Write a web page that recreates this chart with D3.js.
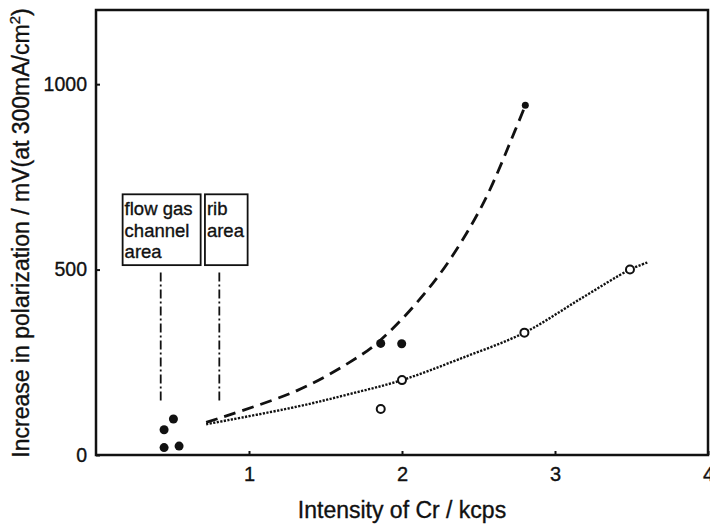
<!DOCTYPE html>
<html>
<head>
<meta charset="utf-8">
<script src="https://cdn.jsdelivr.net/npm/d3@7"></script>
<style>
  body { margin: 0; background: #fff; }
  text { font-family: "Liberation Sans", Arial, sans-serif; fill: #111; stroke: #111; stroke-width: 0.35; }
</style>
</head>
<body>
<div id="vis"></div>
<script>
let filledX = [0.445, 0.543, 0.445, 0.506, 1.861, 1.998, 2.806]
let filledY = [20, 24, 68, 97, 301, 300, 943]
let openX = [1.861, 2.0, 2.8, 3.49]
let openY = [124, 202, 330, 500]

// fitted curves as drawn
let dashX = [0.72, 1.31, 1.654, 1.86, 2.22, 2.52, 2.74, 2.806]
let dashY = [88, 173, 249, 310, 473, 670, 876, 943]
let dotX = [0.72, 1.31, 1.654, 2.0, 2.37, 2.8, 3.17, 3.49, 3.61]
let dotY = [83, 130, 164, 202, 258, 330, 422, 500, 520]

let xTicks = [1, 2, 3, 4]
let yTicks = [0, 500, 1000]

let W = 710, H = 530
let x = d3.scaleLinear([0, 4], [96, 708])
let y = d3.scaleLinear([0, 1200], [455, 10])

let svg = d3.select("#vis").append("svg")
    .attr("width", W)
    .attr("height", H)

// x axis (ticks point inward)
let xa = svg.append("g")
    .attr("transform", `translate(0, ${y(0)})`)
    .call(d3.axisBottom(x).tickValues(xTicks).tickSize(-4).tickPadding(12).tickFormat(d3.format("d")))
xa.select(".domain").remove()
xa.selectAll("line").attr("stroke", "#111").attr("stroke-width", 2)
xa.selectAll("text").attr("font-size", 20).attr("fill", "#111")

let ya = svg.append("g")
    .attr("transform", `translate(${x(0)}, 0)`)
    .call(d3.axisLeft(y).tickValues(yTicks).tickSize(-4).tickPadding(9).tickFormat(d3.format("d")))
ya.select(".domain").remove()
ya.selectAll("line").attr("stroke", "#111").attr("stroke-width", 2)
ya.selectAll("text").attr("font-size", 19.5).attr("fill", "#111")

// frame
svg.append("rect")
    .attr("x", x(0))
    .attr("y", y(1200))
    .attr("width", x(4) - x(0))
    .attr("height", y(0) - y(1200))
    .attr("fill", "none")
    .attr("stroke", "#111")
    .attr("stroke-width", 2.5)

// axis titles
svg.append("text")
    .attr("x", 402)
    .attr("y", 518)
    .attr("text-anchor", "middle")
    .attr("font-size", 23)
    .text("Intensity of Cr / kcps")

let yl = svg.append("text")
    .attr("transform", "translate(29, 233) rotate(-90)")
    .attr("text-anchor", "middle")
    .attr("font-size", 23)
yl.append("tspan").text("Increase in polarization / mV(at 300mA/cm")
yl.append("tspan").attr("dy", -9).attr("font-size", 15).text("2")
yl.append("tspan").attr("dy", 9).text(")")

// curves
let line = d3.line().x(d => x(d[0])).y(d => y(d[1])).curve(d3.curveCatmullRom)

svg.append("path")
    .attr("d", line(d3.zip(dashX, dashY)))
    .attr("fill", "none")
    .attr("stroke", "#111")
    .attr("stroke-width", 2.8)
    .attr("stroke-dasharray", "12 7")

svg.append("path")
    .attr("d", line(d3.zip(dotX, dotY)))
    .attr("fill", "none")
    .attr("stroke", "#111")
    .attr("stroke-width", 2.4)
    .attr("stroke-dasharray", "2.2 1.4")

// points
svg.append("g").selectAll("circle")
    .data(d3.zip(filledX, filledY))
    .join("circle")
    .attr("cx", d => x(d[0]))
    .attr("cy", d => y(d[1]))
    .attr("r", (d, i) => i === filledX.length - 1 ? 3.5 : 4.5)
    .attr("fill", "#111")

svg.append("g").selectAll("circle")
    .data(d3.zip(openX, openY))
    .join("circle")
    .attr("cx", d => x(d[0]))
    .attr("cy", d => y(d[1]))
    .attr("r", 4)
    .attr("fill", "#fff")
    .attr("stroke", "#111")
    .attr("stroke-width", 2)

// region labels
let boxes = [
    {x0: 0.174, x1: 0.684, lines: ["flow gas", "channel", "area"], lx: 0.423},
    {x0: 0.712, x1: 0.991, lines: ["rib", "area"], lx: 0.806}
]
let boxTop = 703, boxBot = 512, leadTop = 492, leadBot = 140

let bg = svg.append("g").selectAll("g")
    .data(boxes)
    .join("g")

bg.append("rect")
    .attr("x", d => x(d.x0))
    .attr("y", y(boxTop))
    .attr("width", d => x(d.x1) - x(d.x0))
    .attr("height", y(boxBot) - y(boxTop))
    .attr("fill", "#fff")
    .attr("stroke", "#111")
    .attr("stroke-width", 1.8)

bg.append("text")
    .attr("font-size", 18.5)
    .selectAll("tspan")
    .data(d => d.lines.map((t, i) => ({t, i, x0: d.x0})))
    .join("tspan")
    .attr("x", d => x(d.x0) + 2)
    .attr("y", d => y(boxTop) + 21 + d.i * 21.5)
    .text(d => d.t)

bg.append("line")
    .attr("x1", d => x(d.lx))
    .attr("x2", d => x(d.lx))
    .attr("y1", y(leadTop))
    .attr("y2", y(leadBot))
    .attr("stroke", "#111")
    .attr("stroke-width", 1.8)
    .attr("stroke-dasharray", "9 3 2 3")
</script>
</body>
</html>
